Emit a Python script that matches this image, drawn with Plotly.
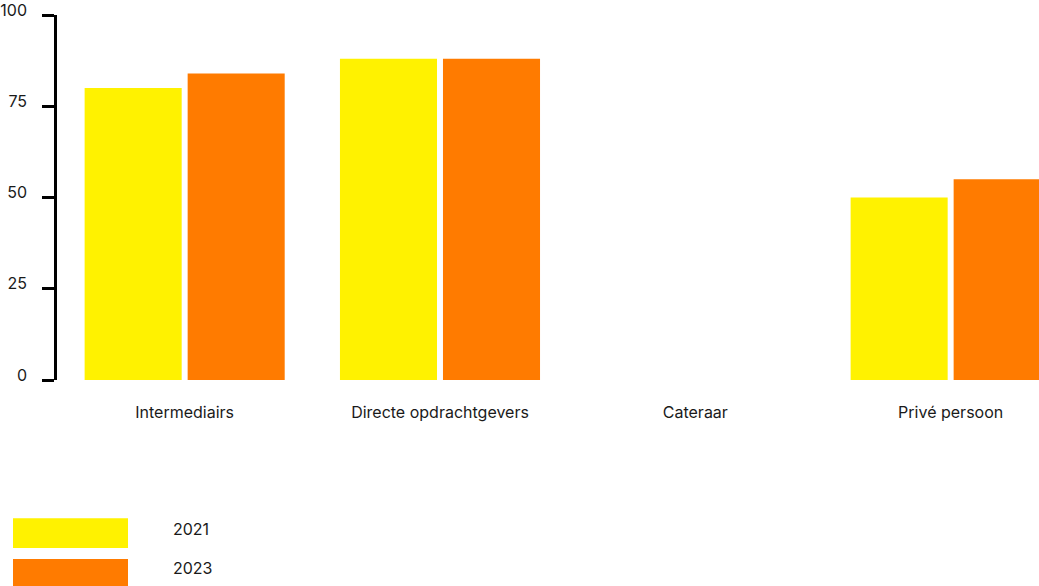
import plotly.graph_objects as go

categories = ["Intermediairs", "Directe opdrachtgevers", "Cateraar", "Privé persoon"]
series_names = ["2021", "2023"]
values_2021 = [80, 88, None, 50]
values_2023 = [84, 88, None, 55]
y_ticks = [0, 25, 50, 75, 100]
colors = ["#FFF200", "#FF7B00"]

fig = go.Figure()
for name, vals, col in zip(series_names, [values_2021, values_2023], colors):
    fig.add_trace(go.Bar(x=categories, y=vals, name=name, marker=dict(color=col, line=dict(width=0)),
                         showlegend=False))

FONT = "Inter, Roboto, sans-serif"
fig.update_layout(
    width=1039, height=586,
    margin=dict(l=57, r=0, t=13, b=206),
    paper_bgcolor="white", plot_bgcolor="white",
    barmode="group", bargap=0.193, bargroupgap=0.058,
    font=dict(family=FONT, size=16, color="#1a1a1a"),
    xaxis=dict(range=[-0.5, 3.346], showgrid=False, showline=False, zeroline=False,
               ticks="", ticklabelstandoff=21, tickfont=dict(size=16, color="#1a1a1a")),
    yaxis=dict(range=[0, 100], tickvals=y_ticks, showgrid=False, zeroline=False,
               showline=True, linecolor="black", linewidth=2.5,
               ticks="outside", ticklen=12, tickwidth=2.5, tickcolor="black",
               ticklabelstandoff=12, ticklabelshift=-5, ticklabeloverflow="allow",
               tickfont=dict(size=16, color="#1a1a1a")),
)

# legend drawn as large swatches
legend_rows = [(519, 549, 530), (560, 590, 569)]
for (y0, y1, yc), name, col in zip(legend_rows, series_names, colors):
    fig.add_shape(type="rect", xref="paper", yref="paper",
                  x0=(13 - 57) / 982, x1=(128 - 57) / 982,
                  y0=(380 - y1) / 367, y1=(380 - y0) / 367,
                  fillcolor=col, line=dict(width=0), layer="above")
    fig.add_annotation(xref="paper", yref="paper", x=(171 - 57) / 982, y=(380 - yc) / 367,
                       text=name, showarrow=False, xanchor="left", yanchor="middle",
                       font=dict(size=16, color="#1a1a1a", family=FONT))

fig.write_html("out.html")
